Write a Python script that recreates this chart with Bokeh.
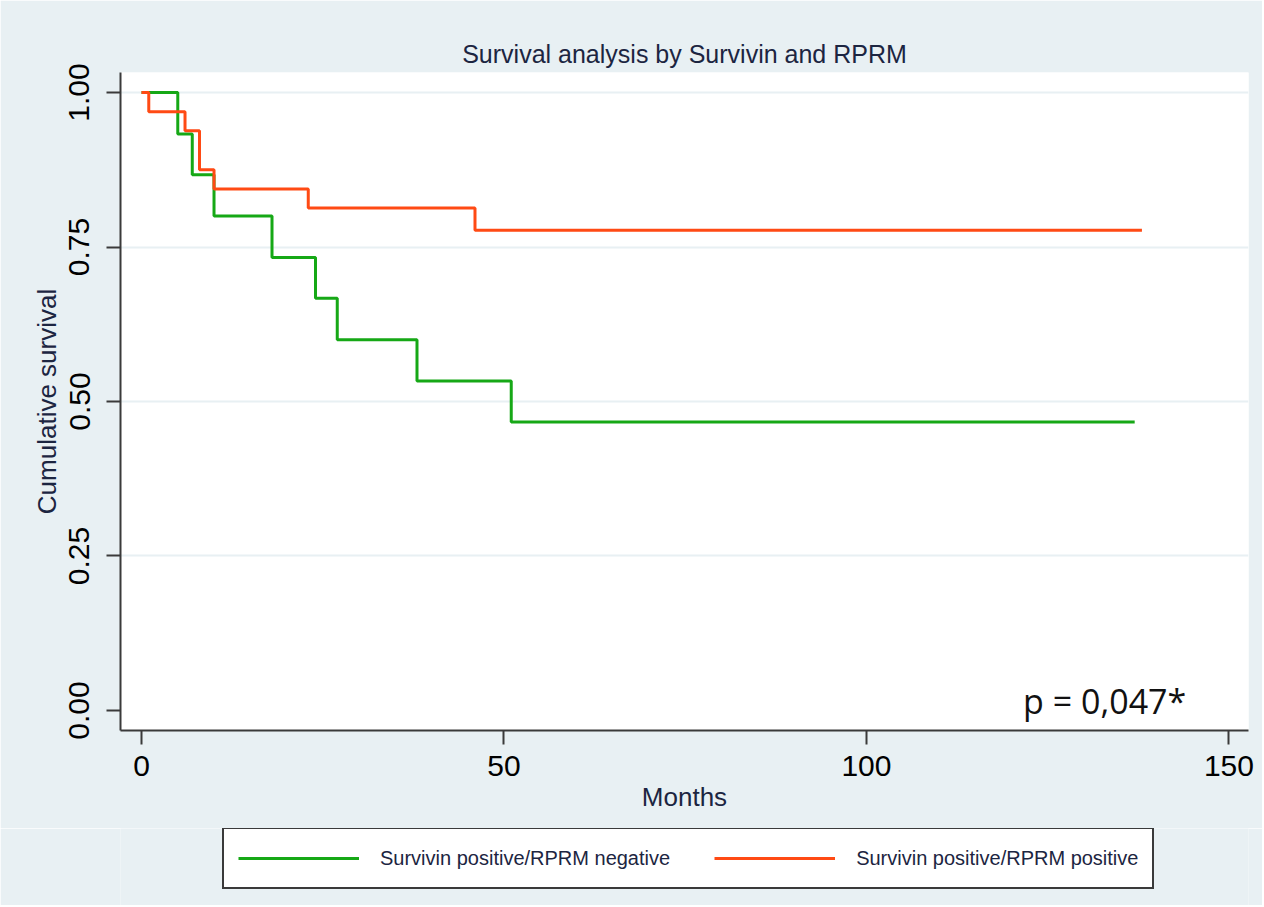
from bokeh.plotting import figure
from bokeh.layouts import column
from bokeh.models import (Range1d, FixedTicker, PrintfTickFormatter, Legend, LegendItem, Label)
from bokeh.embed import file_html
from bokeh.resources import INLINE

# ---- data ----
green_label = "Survivin positive/RPRM negative"
green_months = [0, 5, 7, 10, 18, 24, 27, 38, 51, 137]
green_surv = [1.0, 0.933, 0.867, 0.800, 0.733, 0.667, 0.600, 0.533, 0.467, 0.467]

red_label = "Survivin positive/RPRM positive"
red_months = [0, 1, 6, 8, 10, 23, 46, 138]
red_surv = [1.0, 0.969, 0.938, 0.875, 0.844, 0.813, 0.777, 0.777]

x_ticks = [0, 50, 100, 150]
y_ticks = [0.00, 0.25, 0.50, 0.75, 1.00]
grid_ticks = [0.25, 0.50, 0.75, 1.00]

title_text = "Survival analysis by Survivin and RPRM"
x_label = "Months"
y_label = "Cumulative survival"
p_text = "p = 0,047*"

# ---- style ----
BG = "#e8f0f3"
GREEN = "#16a816"
RED = "#ff4a14"
NAVY = "#1c2541"
AXIS = "#3a3a3a"
FONT = "Liberation Sans"

p = figure(width=1262, height=828, output_backend="svg", toolbar_location=None,
           x_range=Range1d(-2.9, 152.7), y_range=Range1d(-0.0324, 1.0324),
           min_border_left=120, min_border_right=14, min_border_top=72, min_border_bottom=98,
           background_fill_color="white", border_fill_color=BG, outline_line_color=None)

p.title.text = title_text
p.title.align = "center"
p.title.text_font = FONT
p.title.text_font_size = "25px"
p.title.text_font_style = "normal"
p.title.text_color = NAVY
p.title.standoff = 9

gr = p.step(green_months, green_surv, mode="after", line_color=GREEN, line_width=3)
rr = p.step(red_months, red_surv, mode="after", line_color=RED, line_width=3)

p.xgrid.visible = False
p.ygrid.ticker = FixedTicker(ticks=grid_ticks)
p.ygrid.grid_line_color = BG
p.ygrid.grid_line_width = 2

for ax in (p.xaxis[0], p.yaxis[0]):
    ax.axis_line_color = AXIS
    ax.axis_line_width = 2
    ax.major_tick_line_color = AXIS
    ax.major_tick_line_width = 2
    ax.major_tick_out = 14
    ax.major_tick_in = 0
    ax.minor_tick_line_color = None
    ax.major_label_text_font = FONT
    ax.major_label_text_font_size = "30px"
    ax.major_label_text_color = "black"
    ax.axis_label_text_font = FONT
    ax.axis_label_text_font_size = "26px"
    ax.axis_label_text_font_style = "normal"
    ax.axis_label_text_color = NAVY

p.xaxis.ticker = FixedTicker(ticks=x_ticks)
p.xaxis.axis_label = x_label
p.xaxis.major_label_standoff = 11
p.xaxis.axis_label_standoff = 3

p.yaxis.ticker = FixedTicker(ticks=y_ticks)
p.yaxis.formatter = PrintfTickFormatter(format="%.2f")
p.yaxis.major_label_orientation = "vertical"
p.yaxis.axis_label = y_label
p.yaxis.major_label_standoff = 17
p.yaxis.axis_label_standoff = 5

p.add_layout(Label(x=121.6, y=0.0146, text=p_text, text_font="Open Sans",
                   text_font_size="34px", text_color="#111111", text_baseline="alphabetic"))

# ---- legend strip below the plot (same series; their lines fall outside this strip's view) ----
lg = figure(width=1262, height=77, output_backend="svg", toolbar_location=None,
            x_range=Range1d(-2.9, 152.7), y_range=Range1d(5, 6),
            x_axis_type=None, y_axis_type=None,
            min_border_left=120, min_border_right=14, min_border_top=0, min_border_bottom=0,
            background_fill_color=BG, border_fill_color=BG, outline_line_color=None)
lg.xgrid.visible = False
lg.ygrid.visible = False
lgr = lg.step(green_months, green_surv, mode="after", line_color=GREEN, line_width=3)
lrr = lg.step(red_months, red_surv, mode="after", line_color=RED, line_width=3)

legend = Legend(items=[LegendItem(label=green_label, renderers=[lgr]),
                       LegendItem(label=red_label, renderers=[lrr])],
                orientation="horizontal", location=(102, 16), margin=0,
                padding=14, spacing=44, glyph_width=121, glyph_height=30,
                label_standoff=21, label_text_font=FONT, label_text_font_size="20px",
                label_text_color=NAVY, border_line_color=AXIS, border_line_width=2,
                border_line_alpha=1.0,
                background_fill_color="white", background_fill_alpha=1.0)
lg.add_layout(legend, "center")

layout = column(p, lg, spacing=0)
open("out.html", "w").write(file_html(layout, INLINE))
